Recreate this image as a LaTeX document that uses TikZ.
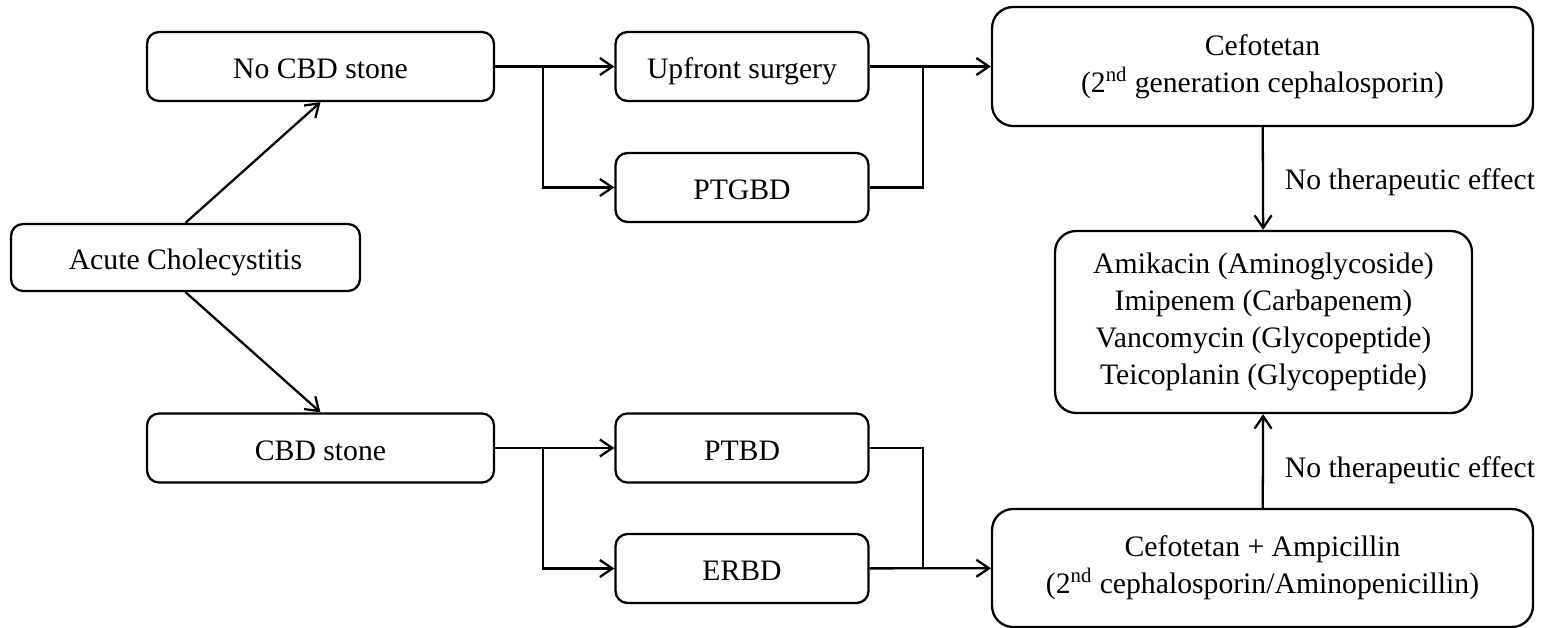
\documentclass[tikz,border=0pt]{standalone}
\usepackage{fontspec}
\setmainfont{Liberation Serif}
\usepackage{tikz}
\usetikzlibrary{arrows.meta}
\usetikzlibrary{positioning}
\tikzstyle{box}=[draw,rounded corners=0.24cm,line width=1.3pt,inner sep=2pt,align=center,minimum width=5.06cm,minimum height=1.38cm]
\tikzstyle{stepbox}=[box,text height=14pt,text depth=0pt]
\tikzstyle{drugbox}=[box,rounded corners=0.42cm,minimum width=10.82cm]

\begin{document}
\begin{tikzpicture}[x=0.02cm,y=-0.02cm,line width=1.3pt,>={Straight Barb[length=2.5mm,width=3.4mm]},
  font=\fontsize{16.9}{21}\selectfont]
\useasboundingbox (0,0) rectangle (1551,628);
    \node [stepbox,minimum width=6.98cm,minimum height=1.34cm] (acute) at (185.5,257.5) {Acute Cholecystitis};
    \node [stepbox,minimum width=6.94cm] (nocbd) at (320.5,66.5) {No CBD stone};
    \node [stepbox,minimum width=6.94cm] (cbd) at (320.5,448) {CBD stone};
    \node [stepbox] (upfront) at (742,66.5) {Upfront surgery};
    \node [stepbox] (ptgbd) at (742,187.5) {PTGBD};
    \node [stepbox] (ptbd) at (742,448) {PTBD};
    \node [stepbox] (erbd) at (742,568.5) {ERBD};
    \node [drugbox,minimum height=2.38cm] (cefo) at (1262.5,66.5) {Cefotetan\\(2\textsuperscript{nd} generation cephalosporin)};
    \node [drugbox,minimum width=8.34cm,minimum height=3.64cm] (amik) at (1263.5,322)
      {Amikacin (Aminoglycoside)\\Imipenem (Carbapenem)\\Vancomycin (Glycopeptide)\\Teicoplanin (Glycopeptide)};
    \node [drugbox,minimum height=2.36cm] (cefamp) at (1262.5,568) {Cefotetan + Ampicillin\\(2\textsuperscript{nd} cephalosporin/Aminopenicillin)};

\coordinate (j1) at (543,66.5);
\coordinate (j2) at (923,66.5);
\coordinate (j3) at (543,448);
\coordinate (j4) at (923,568.5);

\draw[->] (acute.north) -- (nocbd.south);
\draw[->] (acute.south) -- (cbd.north);
\draw[->] (nocbd) -- (upfront);
\draw[->] (j1) |- (ptgbd);
\draw[->] (upfront) -- (cefo);
\draw (ptgbd.east) -| (j2);
\draw[->] (cbd) -- (ptbd);
\draw[->] (j3) |- (erbd);
\draw[->] (erbd) -- (cefamp);
\draw (ptbd.east) -| (j4);
\draw[->] (cefo) -- node[right=0.3cm,yshift=-0.08cm] {No therapeutic effect} (amik);
\draw[->] (cefamp) -- node[right=0.3cm,yshift=-0.18cm] {No therapeutic effect} (amik);
\end{tikzpicture}
\end{document}
